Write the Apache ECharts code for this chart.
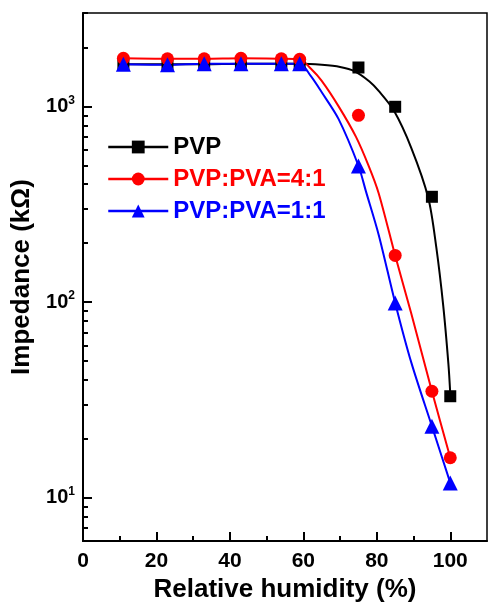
<!DOCTYPE html>
<html><head><meta charset="utf-8">
<script src="https://cdn.jsdelivr.net/npm/echarts@6/dist/echarts.min.js"></script>
<style>html,body{margin:0;padding:0;background:#fff}#c{width:488px;height:608px}</style>
</head><body><div id="c"></div>
<script>
// ---- data ----
const seriesNames = ['PVP', 'PVP:PVA=4:1', 'PVP:PVA=1:1'];
const seriesColors = ['#000000', '#ff0000', '#0000ff'];
const seriesSymbols = ['rect', 'circle', 'triangle'];
const humidity = [11, 23, 33, 43, 54, 59, 75, 85, 95, 100];
const pvp   = [1640, 1640, 1640, 1650, 1650, 1650, 1580, 995, 345, 33];
const pvp41 = [1760, 1750, 1750, 1760, 1750, 1740, 900, 173, 35, 16];
const pvp11 = [1640, 1630, 1650, 1650, 1650, 1650, 495, 99, 23.2, 11.9];

// fitted curves
const pvpFitX   = [11, 23, 33, 43, 54, 59, 65, 70, 74, 78, 80.5, 84.6, 89.4, 94, 96.2, 98.1, 99.5, 100];
const pvpFitY   = [1640, 1640, 1640, 1650, 1650, 1650, 1630, 1590, 1510, 1340, 1200, 954, 612, 341, 190, 95, 48, 34];
const pvp41FitX = [11, 23, 33, 43, 54, 59, 62, 65, 69.6, 74.3, 77.8, 80.5, 85, 89.4, 95, 100];
const pvp41FitY = [1760, 1750, 1750, 1760, 1750, 1740, 1560, 1350, 1000, 700, 495, 360, 173, 87, 35, 16];
const pvp11FitX = [11, 23, 33, 43, 54, 59, 62, 65, 69.6, 75, 77, 80.5, 85, 89.4, 95, 100];
const pvp11FitY = [1640, 1630, 1650, 1650, 1650, 1650, 1430, 1180, 860, 497, 370, 221, 99, 49, 23.2, 11.9];

const xMinorTicks = [10, 30, 50, 70, 90];
const yMinorTicks = [6, 7, 8, 9, 20, 30, 40, 50, 60, 70, 80, 90, 200, 300, 400, 500, 600, 700, 800, 900, 2000, 3000];

const F = '"Liberation Sans", Arial, sans-serif';
const zip = (xs, ys) => xs.map((x, i) => [x, ys[i]]);

const markerData = [pvp, pvp41, pvp11];
const fitData = [[pvpFitX, pvpFitY], [pvp41FitX, pvp41FitY], [pvp11FitX, pvp11FitY]];
const symbolSizes = [12, 13, 15];

const series = [];
fitData.forEach((f, i) => {
  series.push({
    type: 'line', name: seriesNames[i] + ' fit', data: zip(f[0], f[1]),
    xAxisIndex: 0, yAxisIndex: 0,
    smooth: 0.3, showSymbol: false, silent: true, z: 2,
    lineStyle: { color: seriesColors[i], width: 2 }
  });
});
markerData.forEach((d, i) => {
  series.push({
    type: 'line', name: seriesNames[i], data: zip(humidity, d),
    xAxisIndex: 0, yAxisIndex: 0,
    symbol: seriesSymbols[i], symbolSize: symbolSizes[i], showAllSymbol: true, z: 3,
    itemStyle: { color: seriesColors[i] },
    lineStyle: { color: seriesColors[i], width: 2.5, opacity: 0 }
  });
});

const chart = echarts.init(document.getElementById('c'), null, { renderer: 'canvas' });
chart.setOption({
  animation: false,
  backgroundColor: '#fff',
  grid: { left: 83, top: 13, width: 404, bottom: 62, show: true, borderColor: '#000', borderWidth: 1.5, backgroundColor: 'transparent' },
  legend: {
    orient: 'vertical', left: 107, top: 135, padding: 0, itemWidth: 60, itemHeight: 16, itemGap: 8,
    selectedMode: false,
    lineStyle: { width: 2.5, opacity: 1 },
    textStyle: { fontSize: 24, fontWeight: 'bold', fontFamily: F },
    data: seriesNames.map((n, i) => ({
      name: n, textStyle: { color: seriesColors[i] },
      lineStyle: { opacity: 1, width: 2.5, color: seriesColors[i] },
      itemStyle: { color: seriesColors[i] }
    }))
  },
  xAxis: [{
    type: 'value', min: 0, max: 110, interval: 20,
    name: 'Relative humidity (%)', nameLocation: 'middle', nameGap: 35,
    nameTextStyle: { fontSize: 26, fontWeight: 'bold', fontFamily: F, color: '#000' },
    axisLine: { show: true, onZero: false, lineStyle: { color: '#000', width: 2 } },
    axisTick: { show: true, inside: true, length: 9, lineStyle: { color: '#000', width: 2 } },
    axisLabel: { show: true, margin: 10, showMaxLabel: false, fontSize: 21, fontWeight: 'bold', fontFamily: F, color: '#000' },
    splitLine: { show: false }
  }, {
    type: 'value', min: 0, max: 110, position: 'bottom',
    axisLine: { show: false, onZero: false },
    axisTick: { show: true, inside: true, length: 5, customValues: xMinorTicks, lineStyle: { color: '#000', width: 2 } },
    axisLabel: { show: false },
    splitLine: { show: false }
  }],
  yAxis: [{
    type: 'log', logBase: 10, min: 6, max: 3000,
    name: 'Impedance (kΩ)', nameLocation: 'middle', nameGap: 47,
    nameTextStyle: { fontSize: 26, fontWeight: 'bold', fontFamily: F, color: '#000' },
    axisLine: { show: true, onZero: false, lineStyle: { color: '#000', width: 2 } },
    axisTick: { show: true, inside: true, length: 9, lineStyle: { color: '#000', width: 2 } },
    axisLabel: {
      show: true, margin: 8, showMinLabel: false, showMaxLabel: false,
      formatter: v => '{b|10}{s|' + Math.round(Math.log10(v)) + '}',
      rich: {
        b: { fontSize: 20, fontWeight: 'bold', fontFamily: F, color: '#000', lineHeight: 24 },
        s: { fontSize: 12, fontWeight: 'bold', fontFamily: F, color: '#000', verticalAlign: 'top', lineHeight: 14 }
      }
    },
    splitLine: { show: false }
  }, {
    type: 'value', min: Math.log10(6), max: Math.log10(3000), position: 'left',
    axisLine: { show: false, onZero: false },
    axisTick: { show: true, inside: true, length: 5, customValues: yMinorTicks.map(v => Math.log10(v)), lineStyle: { color: '#000', width: 2 } },
    axisLabel: { show: false },
    splitLine: { show: false }
  }],
  series: series
});
</script></body></html>
